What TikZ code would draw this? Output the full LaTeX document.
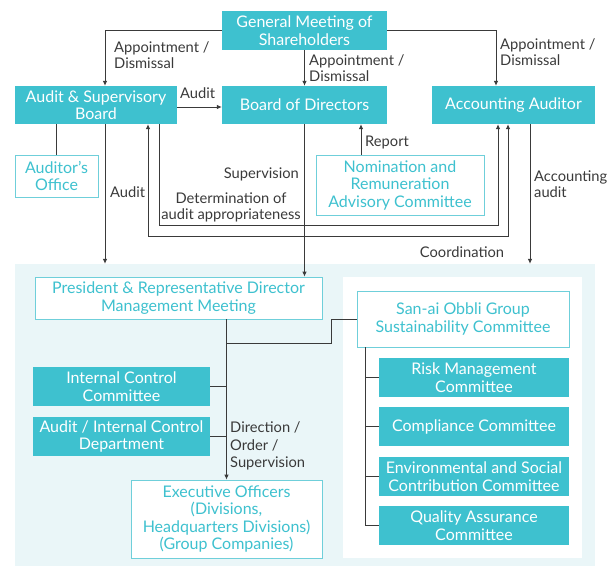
\documentclass[tikz,border=0pt]{standalone}
\usepackage{fontspec}
\setmainfont{Lato}
\usetikzlibrary{arrows.meta,calc}
\definecolor{teal1}{HTML}{3EC1CF}
\definecolor{bgblue}{HTML}{EAF6F8}
\definecolor{linec}{HTML}{3A3A3A}
\definecolor{txt}{HTML}{3A3A3A}
\definecolor{obord}{HTML}{6FCFDA}
\begin{document}
\begin{tikzpicture}[x=1pt,y=-1pt,
 fbox/.style={fill=teal1,text=white,align=center,inner sep=0pt,font=\fontsize{16}{17.5}\selectfont},
 obox/.style={draw=obord,line width=0.8pt,fill=white,text=teal1,align=center,inner sep=0pt,font=\fontsize{16}{17.5}\selectfont},
 lbl/.style={text=txt,font=\fontsize{14.7}{16}\selectfont,inner sep=0pt,align=left},
 conn/.style={draw=linec,line width=0.8pt},
 arr/.style={conn,-{Latex[length=5pt,width=4.5pt]}},
 arrb/.style={conn,{Latex[length=5pt,width=4.5pt]}-{Latex[length=5pt,width=4.5pt]}},
]
\useasboundingbox (0,0) rectangle (610,571);
% background areas
\node[fill=bgblue,minimum width=580pt,minimum height=302pt,inner sep=0pt] (bg) at (305,415) {};
\node[fill=white,minimum width=239pt,minimum height=281pt,inner sep=0pt] (panel) at (462.5,417.5) {};
% top boxes
\node[fbox,minimum width=165pt,minimum height=39pt] (gm) at (304.5,30.5) {General Meeting of\\Shareholders};
\node[fbox,minimum width=162pt,minimum height=38pt] (asb) at (96,105) {Audit \& Supervisory\\Board};
\node[fbox,minimum width=165pt,minimum height=38pt] (bod) at (304.5,105) {Board of Directors};
\node[fbox,minimum width=163pt,minimum height=38pt] (aa) at (513.5,105) {Accounting Auditor};
\node[obox,minimum width=83pt,minimum height=42pt] (office) at (56.5,176) {Auditor's\\Office};
\node[obox,minimum width=168pt,minimum height=60pt] (nom) at (400,185) {Nomination and\\Remuneration\\Advisory Committee};
% lower boxes
\node[obox,minimum width=287pt,minimum height=42pt] (pres) at (178.5,298) {President \& Representative Director\\Management Meeting};
\node[obox,minimum width=212pt,minimum height=56pt] (sus) at (463,319) {San-ai Obbli Group\\Sustainability Committee};
\node[fbox,minimum width=177pt,minimum height=39pt] (icc) at (121.5,386.5) {Internal Control\\Committee};
\node[fbox,minimum width=177pt,minimum height=39pt] (aicd) at (121.5,436.5) {Audit / Internal Control\\Department};
\node[obox,minimum width=191pt,minimum height=78pt] (exec) at (226.5,519) {Executive Officers\\(Divisions,\\Headquarters Divisions)\\(Group Companies)};
\node[fbox,minimum width=190pt,minimum height=39pt] (risk) at (474,377.5) {Risk Management\\Committee};
\node[fbox,minimum width=190pt,minimum height=39pt] (comp) at (474,426.5) {Compliance Committee};
\node[fbox,minimum width=190pt,minimum height=39pt] (env) at (474,476.5) {Environmental and Social\\Contribution Committee};
\node[fbox,minimum width=190pt,minimum height=39pt] (qa) at (474,525.5) {Quality Assurance\\Committee};
% coordinates
\coordinate (asbA) at ($(asb.north)+(9,0)$);
\coordinate (aaA) at ($(aa.north)+(-17.5,0)$);
\coordinate (asbAud) at ($(asb.east)+(0,2)$);
\coordinate (asbOut) at ($(asb.south)+(52,0)$);
\coordinate (asbIn) at ($(asb.south)+(63,0)$);
\coordinate (asbDown) at ($(asb.south)+(9,0)$);
\coordinate (aaIn) at ($(aa.south)+(-15.5,0)$);
\coordinate (aaOut) at ($(aa.south)+(-5.5,0)$);
\coordinate (aaDown) at ($(aa.south)+(16.5,0)$);
\coordinate (nomR) at ($(nom.north)+(-39,0)$);
\coordinate (j1) at ($(pres.south)+(48,24)$);
\coordinate (sv) at ($(sus.south west)+(9,0)$);
% connectors
\draw[arr] (gm.west) -| (asbA);
\draw[arr] (gm.south) -- (bod.north);
\draw[arr] (gm.east) -| (aaA);
\draw[arr] (asbAud) -- (asbAud -| bod.west);
\draw[conn] (office.north |- asb.south) -- (office.north);
\draw[arr] (asbDown) -- (asbDown |- bg.north);
\draw[arr] (bod.south) -- (bod.south |- pres.north);
\draw[arr] (nomR) -- (nomR |- bod.south);
\draw[arr] (asbIn) -- ++(0,101) -| (aaIn);
\draw[arrb] (asbOut) -- ++(0,112) -| (aaOut);
\draw[arr] (aaDown) -- (aaDown |- bg.north);
\draw[arr] (exec.north |- pres.south) -- (exec.north);
\draw[conn] (j1) -| ($(sus.west)+(-25,0)$) -- (sus.west);
\draw[conn] (icc.east) -- (icc.east -| exec.north);
\draw[conn] (aicd.east) -- (aicd.east -| exec.north);
\draw[conn] (sv) |- (qa.west);
\draw[conn] (sv |- risk.west) -- (risk.west);
\draw[conn] (sv |- comp.west) -- (comp.west);
\draw[conn] (sv |- env.west) -- (env.west);
% labels
\node[lbl,anchor=west] (l1) at (114,55.5) {Appointment /\\Dismissal};
\node[lbl,anchor=west] (l2) at (309,68.5) {Appointment /\\Dismissal};
\node[lbl,anchor=west] (l3) at (500,52) {Appointment /\\Dismissal};
\node[lbl,anchor=west] (l4) at (180,93) {Audit};
\node[lbl,anchor=east] (l5) at (299,174) {Supervision};
\node[lbl,anchor=west] (l6) at (110,192) {Audit};
\node[lbl,anchor=west] (l7) at (365,142) {Report};
\node[lbl,anchor=west] (l8) at (534,184) {Accounting\\audit};
\node[lbl,align=center] (l9) at (231,207) {Determination of\\audit appropriateness};
\node[lbl] (l10) at (462,252) {Coordination};
\node[lbl,anchor=west,font=\fontsize{14.7}{17.5}\selectfont] (l11) at (230,446) {Direction /\\Order /\\Supervision};
\end{tikzpicture}
\end{document}
